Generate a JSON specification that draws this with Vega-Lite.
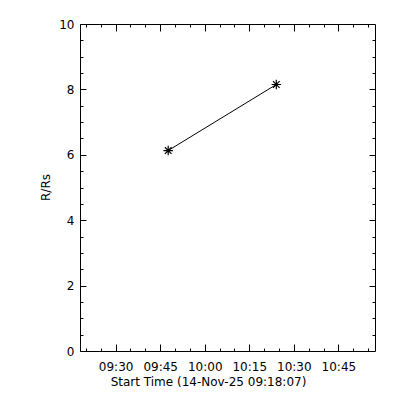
{
  "$schema": "https://vega.github.io/schema/vega-lite/v6.json",
  "width": 295,
  "height": 327,
  "autosize": {"type": "none"},
  "padding": {"left": 80, "top": 24, "right": 25, "bottom": 49},
  "background": "white",
  "config": {
    "view": {"stroke": "black", "strokeWidth": 1},
    "axis": {
      "domain": false, "grid": false,
      "labelFont": "DejaVu Sans", "titleFont": "DejaVu Sans",
      "labelFontSize": 12, "titleFontSize": 12,
      "labelColor": "black", "titleColor": "black", "tickColor": "black",
      "titleFontWeight": "normal", "tickWidth": 1
    }
  },
  "data": {"values": [
    {"time": "2025-11-14T09:47:42", "r": 6.13},
    {"time": "2025-11-14T10:24:06", "r": 8.15}
  ]},
  "layer": [
    {
      "mark": {"type": "line", "color": "black", "strokeWidth": 1},
      "encoding": {
        "x": {"field": "time", "type": "temporal",
          "scale": {"domain": [{"year": 2025, "month": 11, "date": 14, "hours": 9, "minutes": 18}, {"year": 2025, "month": 11, "date": 14, "hours": 10, "minutes": 57, "seconds": 20}]},
          "axis": {"orient": "bottom", "offset": -7, "tickSize": 7, "labelPadding": 10, "format": "%H:%M",
            "values": [
              {"year": 2025, "month": 11, "date": 14, "hours": 9, "minutes": 30},
              {"year": 2025, "month": 11, "date": 14, "hours": 9, "minutes": 45},
              {"year": 2025, "month": 11, "date": 14, "hours": 10, "minutes": 0},
              {"year": 2025, "month": 11, "date": 14, "hours": 10, "minutes": 15},
              {"year": 2025, "month": 11, "date": 14, "hours": 10, "minutes": 30},
              {"year": 2025, "month": 11, "date": 14, "hours": 10, "minutes": 45}
            ],
            "labelFlush": false, "labelOverlap": false,
            "title": "Start Time (14-Nov-25 09:18:07)", "titleX": 128, "titleY": 41, "titleBaseline": "alphabetic", "titleAlign": "center", "titleAnchor": null}},
        "y": {"field": "r", "type": "quantitative",
          "scale": {"domain": [0, 10], "nice": false, "zero": false},
          "axis": {"orient": "left", "offset": -6, "tickSize": 6, "labelPadding": 6,
            "values": [0, 2, 4, 6, 8, 10], "labelFlush": false, "labelOverlap": false,
            "title": "R/Rs", "titleX": -41, "titleY": 163, "titleBaseline": "middle", "titleAlign": "center", "titleAngle": -90}}
      }
    },
    {
      "mark": {"type": "point", "shape": "M-1,0L1,0M0,-1L0,1M-0.7,-0.7L0.7,0.7M-0.7,0.7L0.7,-0.7", "size": 90, "filled": false, "color": "black", "strokeWidth": 1.2, "opacity": 1},
      "encoding": {
        "x": {"field": "time", "type": "temporal",
          "axis": {"orient": "bottom", "offset": -3, "tickSize": 3, "labels": false, "title": null,
            "values": [
              {"year": 2025, "month": 11, "date": 14, "hours": 9, "minutes": 20},
              {"year": 2025, "month": 11, "date": 14, "hours": 9, "minutes": 25},
              {"year": 2025, "month": 11, "date": 14, "hours": 9, "minutes": 35},
              {"year": 2025, "month": 11, "date": 14, "hours": 9, "minutes": 40},
              {"year": 2025, "month": 11, "date": 14, "hours": 9, "minutes": 50},
              {"year": 2025, "month": 11, "date": 14, "hours": 9, "minutes": 55},
              {"year": 2025, "month": 11, "date": 14, "hours": 10, "minutes": 5},
              {"year": 2025, "month": 11, "date": 14, "hours": 10, "minutes": 10},
              {"year": 2025, "month": 11, "date": 14, "hours": 10, "minutes": 20},
              {"year": 2025, "month": 11, "date": 14, "hours": 10, "minutes": 25},
              {"year": 2025, "month": 11, "date": 14, "hours": 10, "minutes": 35},
              {"year": 2025, "month": 11, "date": 14, "hours": 10, "minutes": 40},
              {"year": 2025, "month": 11, "date": 14, "hours": 10, "minutes": 50},
              {"year": 2025, "month": 11, "date": 14, "hours": 10, "minutes": 55}
            ]}},
        "y": {"field": "r", "type": "quantitative",
          "axis": {"orient": "left", "offset": -3, "tickSize": 3, "labels": false, "title": null,
            "values": [0.5, 1, 1.5, 2.5, 3, 3.5, 4.5, 5, 5.5, 6.5, 7, 7.5, 8.5, 9, 9.5]}}
      }
    },
    {
      "mark": {"type": "line", "color": "black", "opacity": 0},
      "encoding": {
        "x": {"field": "time", "type": "temporal",
          "axis": {"orient": "top", "offset": -7, "tickSize": 7, "labels": false, "title": null,
            "values": [
              {"year": 2025, "month": 11, "date": 14, "hours": 9, "minutes": 30},
              {"year": 2025, "month": 11, "date": 14, "hours": 9, "minutes": 45},
              {"year": 2025, "month": 11, "date": 14, "hours": 10, "minutes": 0},
              {"year": 2025, "month": 11, "date": 14, "hours": 10, "minutes": 15},
              {"year": 2025, "month": 11, "date": 14, "hours": 10, "minutes": 30},
              {"year": 2025, "month": 11, "date": 14, "hours": 10, "minutes": 45}
            ]}},
        "y": {"field": "r", "type": "quantitative",
          "axis": {"orient": "right", "offset": -6, "tickSize": 6, "labels": false, "title": null,
            "values": [2, 4, 6, 8]}}
      }
    },
    {
      "mark": {"type": "line", "color": "black", "opacity": 0},
      "encoding": {
        "x": {"field": "time", "type": "temporal",
          "axis": {"orient": "top", "offset": -3, "tickSize": 3, "labels": false, "title": null,
            "values": [
              {"year": 2025, "month": 11, "date": 14, "hours": 9, "minutes": 20},
              {"year": 2025, "month": 11, "date": 14, "hours": 9, "minutes": 25},
              {"year": 2025, "month": 11, "date": 14, "hours": 9, "minutes": 35},
              {"year": 2025, "month": 11, "date": 14, "hours": 9, "minutes": 40},
              {"year": 2025, "month": 11, "date": 14, "hours": 9, "minutes": 50},
              {"year": 2025, "month": 11, "date": 14, "hours": 9, "minutes": 55},
              {"year": 2025, "month": 11, "date": 14, "hours": 10, "minutes": 5},
              {"year": 2025, "month": 11, "date": 14, "hours": 10, "minutes": 10},
              {"year": 2025, "month": 11, "date": 14, "hours": 10, "minutes": 20},
              {"year": 2025, "month": 11, "date": 14, "hours": 10, "minutes": 25},
              {"year": 2025, "month": 11, "date": 14, "hours": 10, "minutes": 35},
              {"year": 2025, "month": 11, "date": 14, "hours": 10, "minutes": 40},
              {"year": 2025, "month": 11, "date": 14, "hours": 10, "minutes": 50},
              {"year": 2025, "month": 11, "date": 14, "hours": 10, "minutes": 55}
            ]}},
        "y": {"field": "r", "type": "quantitative",
          "axis": {"orient": "right", "offset": -3, "tickSize": 3, "labels": false, "title": null,
            "values": [0.5, 1, 1.5, 2.5, 3, 3.5, 4.5, 5, 5.5, 6.5, 7, 7.5, 8.5, 9, 9.5]}}
      }
    }
  ],
  "resolve": {"axis": {"x": "independent", "y": "independent"}}
}
